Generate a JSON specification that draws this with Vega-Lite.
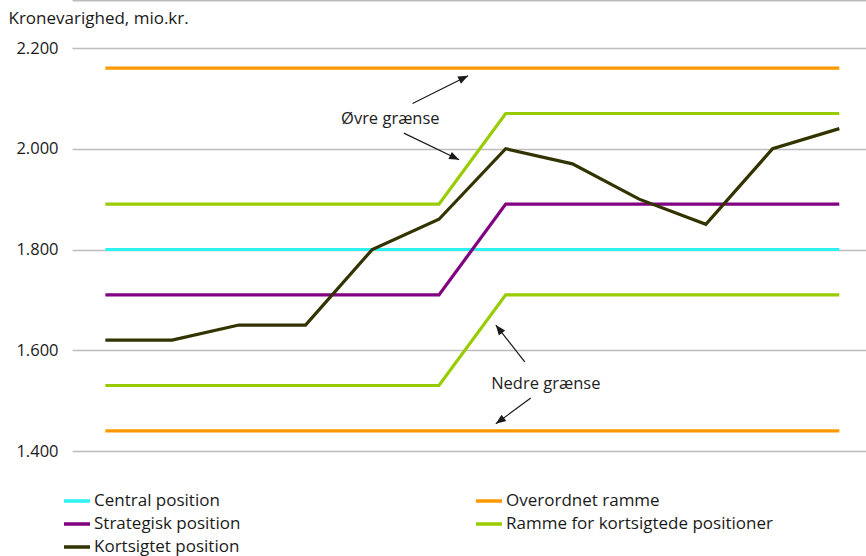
{
  "$schema": "https://vega.github.io/schema/vega-lite/v6.json",
  "width": 794,
  "height": 403,
  "autosize": {"type": "none"},
  "padding": {"left": 72, "top": 48, "right": 0, "bottom": 105},
  "background": "white",
  "config": {
    "view": {"stroke": null},
    "font": "Open Sans",
    "axis": {"labelFont": "Open Sans", "titleFont": "Open Sans"},
    "legend": {"labelFont": "Open Sans"}
  },
  "datasets": {
    "serier": [
      {"maaned": 1, "serie": "Overordnet ramme", "linje": "øvre", "vaerdi": 2160},
      {"maaned": 12, "serie": "Overordnet ramme", "linje": "øvre", "vaerdi": 2160},
      {"maaned": 1, "serie": "Overordnet ramme", "linje": "nedre", "vaerdi": 1440},
      {"maaned": 12, "serie": "Overordnet ramme", "linje": "nedre", "vaerdi": 1440},
      {"maaned": 1, "serie": "Central position", "linje": "midt", "vaerdi": 1800},
      {"maaned": 12, "serie": "Central position", "linje": "midt", "vaerdi": 1800},
      {"maaned": 1, "serie": "Strategisk position", "linje": "midt", "vaerdi": 1710},
      {"maaned": 6, "serie": "Strategisk position", "linje": "midt", "vaerdi": 1710},
      {"maaned": 7, "serie": "Strategisk position", "linje": "midt", "vaerdi": 1890},
      {"maaned": 12, "serie": "Strategisk position", "linje": "midt", "vaerdi": 1890},
      {"maaned": 1, "serie": "Ramme for kortsigtede positioner", "linje": "øvre", "vaerdi": 1890},
      {"maaned": 6, "serie": "Ramme for kortsigtede positioner", "linje": "øvre", "vaerdi": 1890},
      {"maaned": 7, "serie": "Ramme for kortsigtede positioner", "linje": "øvre", "vaerdi": 2070},
      {"maaned": 12, "serie": "Ramme for kortsigtede positioner", "linje": "øvre", "vaerdi": 2070},
      {"maaned": 1, "serie": "Ramme for kortsigtede positioner", "linje": "nedre", "vaerdi": 1530},
      {"maaned": 6, "serie": "Ramme for kortsigtede positioner", "linje": "nedre", "vaerdi": 1530},
      {"maaned": 7, "serie": "Ramme for kortsigtede positioner", "linje": "nedre", "vaerdi": 1710},
      {"maaned": 12, "serie": "Ramme for kortsigtede positioner", "linje": "nedre", "vaerdi": 1710},
      {"maaned": 1, "serie": "Kortsigtet position", "linje": "midt", "vaerdi": 1620},
      {"maaned": 2, "serie": "Kortsigtet position", "linje": "midt", "vaerdi": 1620},
      {"maaned": 3, "serie": "Kortsigtet position", "linje": "midt", "vaerdi": 1650},
      {"maaned": 4, "serie": "Kortsigtet position", "linje": "midt", "vaerdi": 1650},
      {"maaned": 5, "serie": "Kortsigtet position", "linje": "midt", "vaerdi": 1800},
      {"maaned": 6, "serie": "Kortsigtet position", "linje": "midt", "vaerdi": 1860},
      {"maaned": 7, "serie": "Kortsigtet position", "linje": "midt", "vaerdi": 2000},
      {"maaned": 8, "serie": "Kortsigtet position", "linje": "midt", "vaerdi": 1970},
      {"maaned": 9, "serie": "Kortsigtet position", "linje": "midt", "vaerdi": 1900},
      {"maaned": 10, "serie": "Kortsigtet position", "linje": "midt", "vaerdi": 1850},
      {"maaned": 11, "serie": "Kortsigtet position", "linje": "midt", "vaerdi": 2000},
      {"maaned": 12, "serie": "Kortsigtet position", "linje": "midt", "vaerdi": 2040}
    ],
    "pile": [
      {"fra_x": 5.604, "fra_y": 2090, "til_x": 6.437, "til_y": 2145, "retning": 63.6},
      {"fra_x": 5.473, "fra_y": 2031, "til_x": 6.302, "til_y": 1978, "retning": 115.8},
      {"fra_x": 7.286, "fra_y": 1577, "til_x": 6.852, "til_y": 1650, "retning": 321.7},
      {"fra_x": 7.376, "fra_y": 1505, "til_x": 6.852, "til_y": 1454, "retning": 233.7}
    ],
    "tekster": [
      {"x": 5.271, "y": 2059, "tekst": "Øvre grænse"},
      {"x": 7.601, "y": 1533, "tekst": "Nedre grænse"}
    ]
  },
  "layer": [
    {
      "data": {"name": "serier"},
      "mark": {"type": "line", "strokeWidth": 3.2},
      "encoding": {
        "x": {
          "field": "maaned",
          "type": "quantitative",
          "scale": {"domain": [0.5, 12.4], "nice": false, "zero": false},
          "axis": {
            "values": [0.5, 1.5, 2.5, 3.5, 4.5, 5.5, 6.5, 7.5, 8.5, 9.5, 10.5, 11.5],
            "labels": false,
            "grid": false,
            "title": null,
            "domainColor": "#bdbdbd",
            "domainWidth": 2,
            "tickColor": "#bdbdbd",
            "tickWidth": 1.2,
            "tickSize": -7
          }
        },
        "y": {
          "field": "vaerdi",
          "type": "quantitative",
          "scale": {"domain": [1400, 2200], "nice": false, "zero": false},
          "axis": {
            "values": [1400, 1600, 1800, 2000, 2200],
            "labelExpr": "replace(format(datum.value, ','), ',', '.')",
            "grid": true,
            "gridColor": "#bdbdbd",
            "gridWidth": 1.5,
            "domain": false,
            "ticks": false,
            "labelFontSize": 16.5,
            "labelPadding": 14,
            "labelColor": "#1a1a1a",
            "title": "Kronevarighed, mio.kr.",
            "titleAngle": 0,
            "titleAlign": "left",
            "titleBaseline": "middle",
            "titleX": -64,
            "titleY": -30,
            "titleFontSize": 17,
            "titleFontWeight": "normal",
            "titleColor": "#1a1a1a"
          }
        },
        "color": {
          "field": "serie",
          "type": "nominal",
          "scale": {
            "domain": ["Central position", "Strategisk position", "Kortsigtet position", "Overordnet ramme", "Ramme for kortsigtede positioner"],
            "range": ["#2ef2f2", "#800080", "#333300", "#ff9900", "#99cc00"]
          },
          "legend": {
            "orient": "none",
            "legendX": -10,
            "legendY": 438,
            "columns": 2,
            "title": null,
            "symbolType": "stroke",
            "symbolSize": 676,
            "symbolStrokeWidth": 3.5,
            "labelFontSize": 17,
            "labelColor": "#1a1a1a",
            "labelOffset": 2,
            "columnPadding": 228,
            "rowPadding": 0,
            "labelLimit": 400
          }
        },
        "detail": {"field": "linje"}
      }
    },
    {
      "data": {"name": "pile"},
      "mark": {"type": "rule", "strokeWidth": 1.2, "color": "#1a1a1a"},
      "encoding": {
        "x": {
          "field": "fra_x",
          "type": "quantitative",
          "axis": {"orient": "top", "offset": 48, "labels": false, "ticks": false, "grid": false, "title": null, "domainColor": "#1a1a1a", "domainWidth": 2}
        },
        "y": {"field": "fra_y", "type": "quantitative"},
        "x2": {"field": "til_x"},
        "y2": {"field": "til_y"}
      }
    },
    {
      "data": {"name": "pile"},
      "mark": {"type": "point", "shape": "M0,0L-0.8,2L0.8,2Z", "filled": true, "size": 100, "color": "#1a1a1a", "opacity": 1},
      "encoding": {
        "x": {"field": "til_x", "type": "quantitative"},
        "y": {"field": "til_y", "type": "quantitative"},
        "angle": {"field": "retning", "type": "quantitative", "scale": null}
      }
    },
    {
      "data": {"name": "tekster"},
      "mark": {"type": "text", "fontSize": 16.5, "color": "#222222", "align": "center", "baseline": "middle"},
      "encoding": {
        "x": {"field": "x", "type": "quantitative"},
        "y": {"field": "y", "type": "quantitative"},
        "text": {"field": "tekst"}
      }
    }
  ]
}
